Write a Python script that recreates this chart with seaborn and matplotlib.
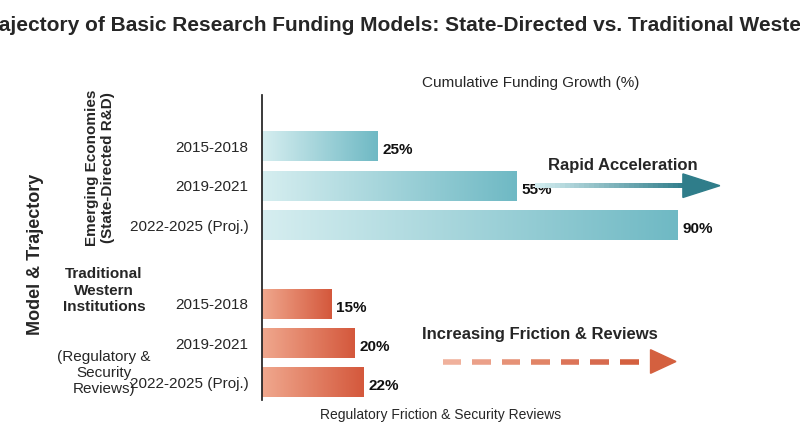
import matplotlib
matplotlib.use("Agg")
import matplotlib.pyplot as plt
import seaborn as sns
import numpy as np
import pandas as pd
from matplotlib.colors import LinearSegmentedColormap

periods = ["2015-2018", "2019-2021", "2022-2025 (Proj.)"]
emerging = [25, 55, 90]
western = [15, 20, 22]

sns.set_theme(style="white")
plt.rcParams['font.family'] = ['Liberation Sans Narrow', 'Liberation Sans', 'DejaVu Sans']

rows = []
for p, v in zip(periods, emerging):
    rows.append(dict(group="Emerging", period=p, value=v))
for p, v in zip(periods, western):
    rows.append(dict(group="Western", period=p, value=v))
df = pd.DataFrame(rows)
ypos = [0, 1, 2, 4, 5, 6]
df["y"] = ypos

fig = plt.figure(figsize=(8, 4.47), dpi=100)
ax = fig.add_axes([0.328, 0.105, 0.67, 0.682])
sns.barplot(data=df, x="value", y="y", orient="h", order=list(range(7)),
            hue="group", palette=["#7fc4cc", "#de7356"], dodge=False,
            legend=False, width=0.76, ax=ax)

cm_e = LinearSegmentedColormap.from_list("e", ["#d6eef0", "#6fb9c4"])
cm_w = LinearSegmentedColormap.from_list("w", ["#f0a88e", "#d4583c"])
grad = np.linspace(0, 1, 256).reshape(1, -1)
for patch in ax.patches:
    w = patch.get_width()
    if w <= 0:
        continue
    x0, y0 = patch.get_x(), patch.get_y()
    h = patch.get_height()
    cm = cm_e if y0 + h / 2 < 3 else cm_w
    patch.set_facecolor("none")
    patch.set_edgecolor("none")
    im = ax.imshow(grad, cmap=cm, aspect="auto", extent=[x0, x0 + w, y0 + h, y0],
                   zorder=2)
    im.set_clip_path(patch)
    ax.text(x0 + w + 1.0, y0 + h / 2 + 0.1, f"{int(w)}%", va="center",
            ha="left", fontsize=11, fontweight="bold", color="#111")
ax.set_xlim(0, 116)
ax.set_ylim(6.45, -1.3)

ax.set_yticks(ypos)
ax.set_yticklabels(periods + periods, fontsize=11)
ax.set_xticks([])
ax.set_xlabel("")
ax.set_ylabel("")
ax.set_title("Cumulative Funding Growth (%)", fontsize=11, pad=6)
for s in ["top", "right", "bottom"]:
    ax.spines[s].set_visible(False)
ax.spines["left"].set_color("#222")
ax.tick_params(axis="y", length=0, pad=10)

fig.text(0.5, 0.93, "Trajectory of Basic Research Funding Models: State-Directed vs. Traditional Western",
         ha="center", fontsize=15, fontweight="bold")
fig.text(0.045, 0.43, "Model & Trajectory", rotation=90, ha="center", va="center",
         fontsize=13, fontweight="bold")
fig.text(0.125, 0.625, "Emerging Economies\n(State-Directed R&D)", rotation=90,
         ha="center", va="center", fontsize=11, fontweight="bold", linespacing=1.1)
fig.text(0.13, 0.29 + 0.06, "Traditional\nWestern\nInstitutions", ha="center", va="center",
         fontsize=11, fontweight="bold", linespacing=1.2)
fig.text(0.13, 0.165, "(Regulatory &\nSecurity\nReviews)", ha="center", va="center",
         fontsize=11, linespacing=1.2)

# rapid acceleration arrow (gradient segments)
n = 30
xs = np.linspace(59, 91, n + 1)
cm_a = LinearSegmentedColormap.from_list("a", ["#d2ecef", "#2f7d8a"])
for i in range(n):
    ax.fill_between([xs[i], xs[i + 1] + 0.05], 0.93, 1.07, color=cm_a(i / n), lw=0, zorder=3)
ax.add_patch(plt.Polygon([[91, 0.7], [91, 1.3], [99, 1.0]], color="#2f7d8a", zorder=3))
ax.text(78, 0.6, "Rapid Acceleration", fontsize=12, fontweight="bold", ha="center")

cols = ["#f0b19c", "#eba089", "#e69277", "#e18466", "#dc7458", "#d76a4e", "#d4603f"]
for i in range(7):
    ax.plot([39 + i * 6.4, 43 + i * 6.4], [5.47, 5.47], color=cols[i], lw=4,
            solid_capstyle="butt", zorder=3)
ax.add_patch(plt.Polygon([[84, 5.17], [84, 5.77], [89.5, 5.47]], color="#d4603f", zorder=3))
ax.text(60, 4.9, "Increasing Friction & Reviews", fontsize=12, fontweight="bold", ha="center")
fig.text(0.4, 0.072, "Regulatory Friction & Security Reviews", fontsize=10, va="center")

fig.savefig("out.png", dpi=100)
